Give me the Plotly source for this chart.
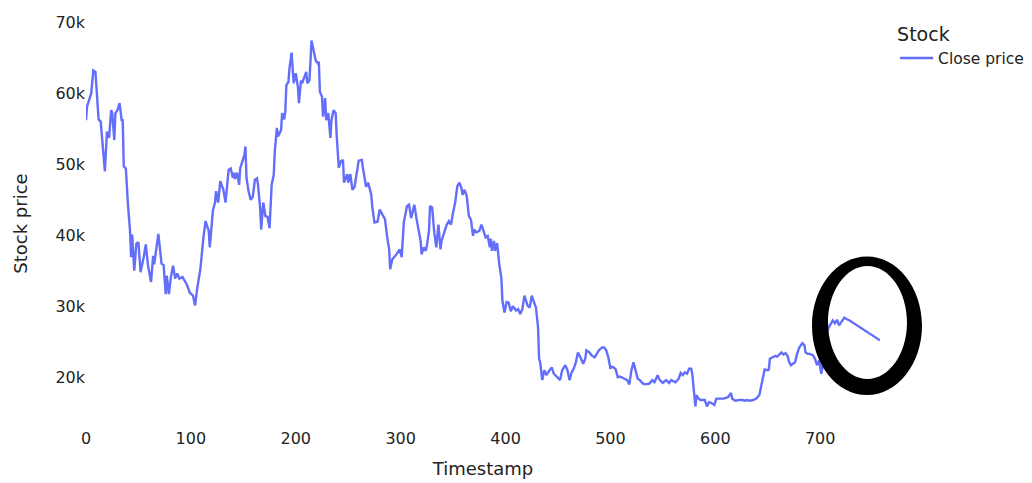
import plotly.graph_objects as go

# ---- data ----
timestamp = [
    0, 1, 5, 7, 9, 12, 14, 16, 18, 20, 22, 24, 25, 27, 28, 30, 32, 34, 35, 36, 38, 40,
    42, 43, 44, 46, 48, 50, 52, 55, 57, 59, 62, 64, 65, 69, 70, 72, 74, 76, 77, 79, 81,
    83, 85, 87, 89, 92, 96, 99, 102, 104, 106, 109, 112, 114, 117, 118, 121, 123, 124,
    126, 128, 131, 133, 135, 136, 138, 140, 141, 142, 144, 146, 147, 149, 151, 152, 153,
    155, 157, 159, 161, 163, 164, 166, 167, 169, 171, 173, 175, 177, 179, 180, 182, 183,
    186, 187, 189, 190, 191, 193, 194, 196, 197, 198, 200, 202, 203, 205, 206, 208, 210,
    211, 213, 214, 215, 217, 219, 221, 222, 223, 225, 226, 228, 229, 231, 233, 234, 236,
    238, 239, 241, 243, 245, 246, 249, 250, 252, 254, 256, 260, 263, 264, 267, 269, 271,
    272, 273, 275, 278, 280, 283, 285, 287, 289, 290, 292, 296, 299, 301, 302, 303, 306,
    308, 310, 313, 315, 317, 319, 320, 322, 324, 325, 327, 328, 330, 332, 334, 336, 338,
    339, 342, 344, 346, 348, 350, 352, 354, 356, 358, 359, 361, 363, 365, 367, 369, 370,
    372, 375, 377, 379, 381, 383, 385, 386, 387, 389, 390, 392, 393, 394, 396, 397, 399,
    401, 403, 405, 407, 410, 412, 414, 416, 418, 421, 423, 425, 427, 429, 431, 432, 433,
    435, 437, 439, 442, 444, 446, 449, 452, 454, 457, 459, 461, 463, 465, 467, 469, 472,
    474, 476, 477, 480, 482, 485, 487, 489, 492, 494, 496, 498, 500, 501, 503, 505, 507,
    509, 512, 514, 516, 518, 520, 522, 524, 526, 528, 531, 533, 535, 537, 540, 542, 545,
    547, 550, 553, 556, 558, 562, 565, 567, 569, 571, 573, 575, 577, 578, 580, 581, 582,
    584, 586, 588, 590, 592, 594, 596, 599, 601, 604, 606, 608, 610, 612, 615, 616, 619,
    621, 623, 626, 628, 630, 633, 636, 639, 642, 644, 646, 647, 650, 651, 652, 655, 657,
    659, 661, 663, 665, 667, 669, 670, 672, 674, 676, 678, 680, 683, 685, 686, 688, 690,
    693, 695, 697, 699, 701, 703, 705, 708, 709, 712, 714, 716, 718, 720, 723, 725, 728,
    757,
]

close_price = [
    56200, 58100, 60000, 63200, 63000, 56300, 56000, 51800, 49000, 54600, 53700, 57600,
    57200, 53400, 57200, 57600, 58600, 56200, 56200, 49700, 49400, 44300, 40600, 36900,
    40100, 35000, 38800, 39000, 34800, 36900, 38700, 35900, 33400, 37100, 35900, 40200,
    38600, 36000, 35800, 31700, 34300, 31700, 34200, 35700, 33900, 34600, 33900, 34100,
    33100, 31900, 31500, 30100, 32500, 35200, 39700, 42000, 40600, 38300, 43500, 44600,
    46200, 44600, 47600, 46400, 44600, 47900, 49200, 49400, 48100, 48800, 47900, 48800,
    47100, 49400, 50200, 51300, 52500, 48100, 46200, 45000, 45400, 47800, 48000, 47100,
    43900, 40800, 44600, 42700, 42600, 41000, 47100, 48500, 51800, 55100, 53900, 54800,
    57200, 56300, 57400, 61100, 61600, 63500, 65700, 62500, 61400, 62800, 60900, 58600,
    61800, 61400, 62100, 63000, 61400, 61800, 64400, 67400, 66000, 64600, 64200, 64400,
    60200, 59500, 56700, 59300, 56200, 57200, 53700, 56200, 57600, 57200, 54100, 49500,
    50400, 50600, 47400, 48600, 47400, 48600, 46400, 46800, 50500, 50600, 49500, 46800,
    47400, 46400, 45700, 43900, 41800, 41900, 43600, 42800, 42300, 39900, 38000, 35200,
    36600, 37300, 38000, 36900, 39200, 41800, 44100, 44300, 42400, 44300, 42400, 40600,
    39200, 37300, 38300, 37800, 38500, 40600, 44100, 43900, 40400, 38300, 41500, 38000,
    39200, 40600, 41500, 42000, 41500, 43200, 44600, 46900, 47400, 46600, 45700, 46400,
    45500, 42700, 42200, 39900, 40800, 40400, 40600, 41500, 40600, 39700, 39900, 38300,
    39500, 37800, 39200, 37800, 38900, 37300, 35900, 34000, 30800, 29100, 30600, 30500,
    29300, 30000, 29400, 29600, 28900, 29600, 31500, 30100, 29800, 31500, 30500, 29800,
    27000, 22600, 22100, 19600, 21000, 20300, 21000, 21400, 20500, 20000, 19600, 21000,
    21700, 21000, 19600, 20700, 21200, 22100, 23500, 22600, 21900, 22600, 23800, 23500,
    23100, 22800, 23300, 23800, 24200, 24200, 23800, 22800, 21200, 21500, 21400, 21100,
    20000, 20100, 19900, 19800, 19600, 19000, 21000, 22100, 20700, 19800, 19600, 19100,
    19000, 19100, 19100, 19600, 19300, 20300, 19600, 19200, 19600, 19200, 19600, 19300,
    19800, 20600, 20300, 20700, 20500, 21200, 21200, 20500, 17700, 15900, 17500, 17000,
    16800, 16800, 16800, 15900, 16500, 16400, 16100, 17000, 17000, 16900, 17000, 17100,
    17200, 17800, 17000, 16700, 16800, 16800, 16800, 16700, 16800, 16700, 16800, 17000,
    17500, 19100, 20700, 21100, 21000, 21100, 22600, 22900, 23000, 22900, 23200, 23500,
    23200, 23400, 23000, 22300, 21700, 21900, 22100, 23300, 24200, 24800, 24500, 23500,
    23300, 23300, 23100, 22600, 21700, 22400, 20500, 22000, 25500, 27000, 27300, 28000,
    27600, 28100, 27300, 27700, 28400, 28200, 28000, 25200,
]

series_name = "Close price"
legend_title = "Stock"
x_title = "Timestamp"
y_title = "Stock price"

# ---- layout / style constants (page body adds an 8px offset) ----
FONT = "DejaVu Sans"
TEXT = "#222222"
W, H = 1024, 475
M_L, M_R, M_T, M_B = 78, 152, 12, 56
PLOT_W = W - M_L - M_R
PLOT_H = H - M_T - M_B


def to_paper(px, py):
    return (px - M_L) / PLOT_W, (H - M_B - py) / PLOT_H


def ellipse_path(cx, cy, rx, ry, reverse=False):
    k = 0.5523
    pts = [
        (cx + rx, cy),
        (cx + rx, cy + k * ry), (cx + k * rx, cy + ry), (cx, cy + ry),
        (cx - k * rx, cy + ry), (cx - rx, cy + k * ry), (cx - rx, cy),
        (cx - rx, cy - k * ry), (cx - k * rx, cy - ry), (cx, cy - ry),
        (cx + k * rx, cy - ry), (cx + rx, cy - k * ry), (cx + rx, cy),
    ]
    if reverse:
        pts = pts[::-1]
    pp = [to_paper(x, y) for x, y in pts]
    s = "M %.5f %.5f" % pp[0]
    for i in range(1, 13, 3):
        s += " C %.5f %.5f %.5f %.5f %.5f %.5f" % (pp[i] + pp[i + 1] + pp[i + 2])
    return s + " Z"


ring = (ellipse_path(859, 317.7, 55, 69.3) + " "
        + ellipse_path(859.5, 314.5, 39.5, 56.5, reverse=True))

fig = go.Figure()
fig.add_trace(go.Scatter(
    x=timestamp, y=close_price, mode="lines", name=series_name,
    line=dict(color="#636efa", width=2.4),
    showlegend=True,
))

fig.update_layout(
    width=W, height=H,
    margin=dict(l=M_L, r=M_R, t=M_T, b=M_B, autoexpand=False),
    paper_bgcolor="white", plot_bgcolor="white",
    font=dict(family=FONT, size=16, color=TEXT),
    legend=dict(
        title=dict(text=legend_title, font=dict(size=19, color=TEXT)),
        font=dict(size=15.5, color=TEXT),
        x=1.019, y=1.008, xanchor="left", yanchor="top", itemwidth=33,
    ),
    xaxis=dict(
        title=dict(text=x_title, font=dict(size=18)),
        range=[0, 757], showgrid=False, zeroline=False, showline=False,
        ticks="", tickvals=[0, 100, 200, 300, 400, 500, 600, 700],
        tickfont=dict(size=16), automargin=False,
    ),
    yaxis=dict(
        title=dict(text=y_title, font=dict(size=18), standoff=23),
        range=[13000, 70300], showgrid=False, zeroline=False, showline=False,
        ticks="", tickvals=[20000, 30000, 40000, 50000, 60000, 70000],
        ticktext=["20k", "30k", "40k", "50k", "60k", "70k"],
        tickfont=dict(size=16), automargin=False,
    ),
    shapes=[dict(
        type="path", xref="paper", yref="paper", path=ring,
        fillcolor="black", fillrule="evenodd", line=dict(width=0), layer="above",
    )],
)

fig.write_html("out.html")
